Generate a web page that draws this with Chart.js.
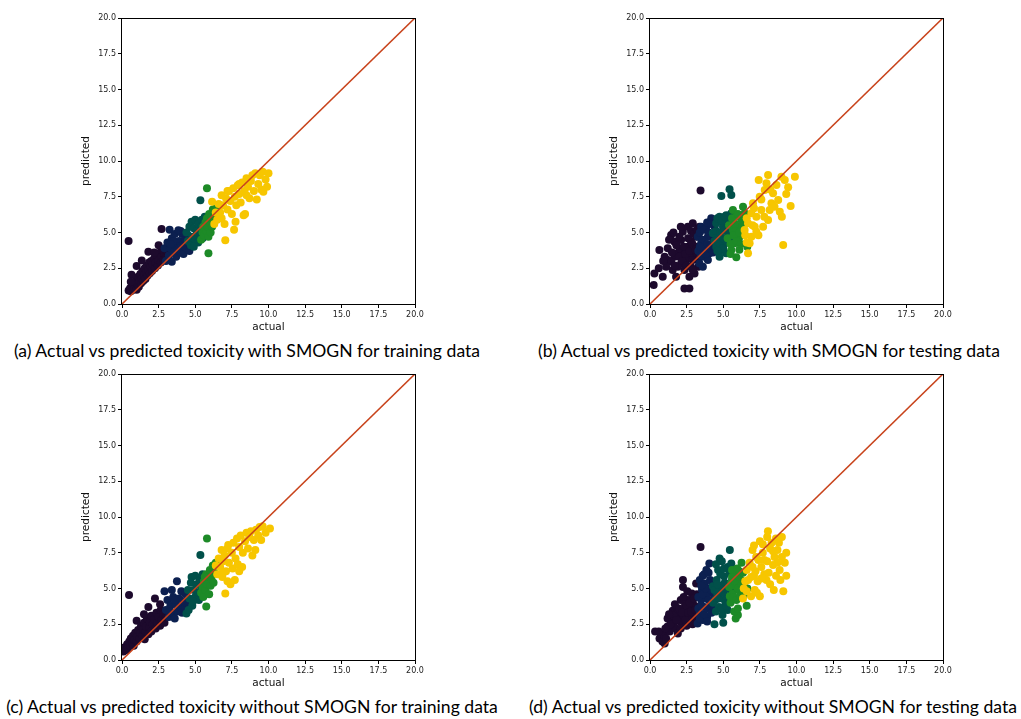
<!DOCTYPE html>
<html>
<head>
<meta charset="utf-8">
<script src="https://cdn.jsdelivr.net/npm/chart.js@4.4.1/dist/chart.umd.min.js"></script>
<style>
  html, body { margin: 0; padding: 0; background: #fff; }
  body { width: 1021px; height: 719px; position: relative; overflow: hidden; }
  canvas { position: absolute; }
  .caption {
    position: absolute;
    width: 540px;
    text-align: center;
    font-family: Lato, "Noto Sans", sans-serif;
    font-size: 17.6px;
    color: #000;
    white-space: nowrap;
  }
</style>
</head>
<body>
<canvas id="panelA" width="362" height="330"></canvas>
<canvas id="panelB" width="362" height="330"></canvas>
<canvas id="panelC" width="362" height="330"></canvas>
<canvas id="panelD" width="362" height="330"></canvas>

<script>
// --------------------------
// data
// --------------------------
const tickValues = [0, 2.5, 5, 7.5, 10, 12.5, 15, 17.5, 20];
const groupColors = ["#1d0a2d", "#0c2050", "#01504a", "#1d8a27", "#f7c600"];
const lineColor = "#c8431b";
const diagonal = [[0, 0], [20, 20]];
const xTitle = "actual";
const yTitle = "predicted";
const captions = [
  "(a) Actual vs predicted toxicity with SMOGN for training data",
  "(b) Actual vs predicted toxicity with SMOGN for testing data",
  "(c) Actual vs predicted toxicity without SMOGN for training data",
  "(d) Actual vs predicted toxicity without SMOGN for testing data"
];

// (a) training, with SMOGN
const trainSmognG1 = [[0.45,0.95],[0.55,1.1],[0.6,0.9],[0.7,1.2],[0.75,1.0],[0.8,1.35],[0.85,1.1],[0.9,1.5],[0.95,1.25],[1.0,1.0],[1.0,1.7],[1.05,1.4],[1.1,1.9],[1.15,1.2],[1.2,1.6],[1.25,2.1],[1.3,1.45],[1.35,1.8],[1.4,2.3],[1.45,1.6],[1.5,2.0],[1.55,2.5],[1.6,1.75],[1.65,2.2],[1.7,2.7],[1.75,2.0],[1.8,2.4],[1.85,2.9],[1.9,2.15],[1.95,2.6],[2.0,3.0],[2.05,2.3],[2.1,2.75],[2.2,3.2],[2.25,2.5],[2.3,2.9],[2.4,3.4],[2.45,2.7],[2.5,3.05],[2.6,3.6],[2.65,2.9],[2.7,3.3],[2.8,3.75],[2.85,3.1],[2.9,3.5],[3.0,3.3],[3.1,3.7],[1.0,2.65],[1.35,3.05],[1.8,3.65],[2.5,4.1],[2.7,5.25],[0.45,4.4],[0.65,2.05],[0.6,1.55],[2.2,3.6]];
const trainSmognG2 = [[2.9,3.9],[3.0,3.0],[3.1,4.3],[3.2,3.4],[3.25,5.2],[3.3,3.9],[3.4,2.95],[3.4,4.6],[3.5,3.6],[3.6,4.1],[3.6,4.9],[3.7,3.3],[3.8,3.8],[3.85,5.15],[3.9,4.4],[4.0,3.6],[4.1,4.9],[4.1,4.1],[4.2,3.5],[4.3,4.5],[4.4,3.9],[4.5,4.8],[4.6,4.2],[4.6,3.7],[3.5,4.4],[3.3,4.2],[4.0,5.1]];
const trainSmognG3 = [[4.4,5.0],[4.5,4.4],[4.6,5.4],[4.7,4.1],[4.75,5.75],[4.8,4.7],[4.9,5.3],[5.0,4.5],[5.0,5.9],[5.1,5.1],[5.2,4.3],[5.2,5.6],[5.3,4.9],[5.4,5.4],[5.45,5.9],[5.5,4.6],[5.6,5.2],[5.65,6.1],[4.9,4.0],[5.35,7.25]];
const trainSmognG4 = [[5.4,4.5],[5.5,5.0],[5.55,5.4],[5.6,4.8],[5.7,5.7],[5.75,5.1],[5.8,6.0],[5.85,5.4],[5.9,4.7],[5.95,6.3],[6.0,5.7],[6.05,5.0],[6.1,6.1],[6.15,5.4],[6.2,6.6],[6.25,5.8],[6.3,6.3],[5.8,8.1],[5.9,3.55],[6.4,6.7]];
const trainSmognG5 = [[6.15,7.15],[6.3,5.6],[6.4,6.4],[6.5,5.9],[6.6,7.0],[6.7,6.4],[6.8,7.6],[6.9,6.9],[7.0,5.6],[7.05,4.45],[7.1,7.4],[7.2,6.6],[7.3,7.9],[7.4,7.2],[7.5,6.3],[7.6,8.1],[7.65,5.2],[7.7,7.5],[7.75,5.75],[7.8,6.9],[7.9,8.3],[8.0,7.7],[8.1,7.1],[8.2,8.5],[8.3,6.2],[8.35,7.9],[8.4,6.3],[8.5,8.8],[8.6,8.2],[8.7,7.4],[8.8,8.6],[8.9,9.0],[9.0,7.9],[9.1,9.15],[9.2,7.3],[9.3,8.4],[9.4,9.0],[9.5,8.0],[9.6,9.25],[9.65,7.85],[9.8,8.7],[9.9,8.2],[10.0,9.15],[7.2,7.9],[6.8,6.0],[8.0,8.4],[8.5,7.6]];

// (b) testing, with SMOGN
const testSmognG1 = [[0.3,2.14],[0.25,1.33],[0.64,3.78],[0.87,1.91],[1.21,3.9],[1.44,4.83],[1.67,4.36],[1.21,3.08],[1.55,2.38],[1.9,3.55],[2.12,4.48],[2.24,5.06],[2.58,5.41],[2.92,5.64],[3.38,5.41],[3.45,7.93],[2.35,1.09],[2.69,1.09],[2.8,2.61],[3.04,3.55],[3.26,3.08],[2.69,3.31],[2.12,2.84],[1.78,1.91],[2.58,4.01],[2.35,2.38],[1.9,2.61],[2.47,3.08],[2.8,4.36],[3.15,4.71],[2.24,3.66],[1.67,3.31],[2.01,3.9],[1.44,2.96],[2.69,1.91],[2.92,3.08],[3.04,2.14],[3.26,4.01],[1.0,3.3],[1.3,4.5],[1.5,3.6],[1.7,2.7],[1.8,4.1],[2.0,3.3],[2.0,4.7],[2.2,3.0],[2.3,4.0],[2.4,3.5],[2.5,2.7],[2.6,4.6],[2.7,3.7],[2.8,5.1],[2.9,4.2],[3.0,4.9],[3.1,3.8],[3.2,5.2],[1.1,2.6],[0.9,3.0],[1.6,5.0],[2.1,5.4],[3.3,2.6],[2.9,2.4],[0.6,2.5]];
const testSmognG2 = [[3.26,4.71],[3.49,4.25],[3.72,3.78],[3.61,2.61],[3.38,2.84],[3.95,4.71],[4.18,6.0],[3.84,5.41],[4.06,3.55],[4.29,4.25],[4.41,5.41],[3.61,3.31],[3.95,3.08],[3.49,5.41],[3.3,3.7],[3.4,5.0],[3.5,3.4],[3.6,4.5],[3.7,5.2],[3.8,3.5],[3.9,4.2],[4.0,5.0],[4.1,3.9],[4.2,4.7],[4.3,3.6],[4.4,4.5],[3.4,4.0],[3.9,5.7],[4.2,5.6]];
const testSmognG3 = [[4.52,5.64],[4.75,6.11],[4.98,5.41],[4.64,4.71],[5.09,4.25],[4.87,3.78],[5.32,5.88],[5.55,6.34],[5.32,4.95],[5.2,3.55],[4.52,4.01],[4.87,7.55],[5.43,8.02],[5.55,7.62],[5.66,4.48],[4.75,3.31],[4.29,4.95],[4.4,4.4],[4.5,5.1],[4.6,6.0],[4.7,4.3],[4.8,5.0],[4.9,5.8],[5.0,4.6],[5.0,3.9],[5.1,5.2],[5.2,6.2],[5.3,4.3],[5.4,5.6],[5.5,5.0],[4.6,3.7],[5.1,6.1]];
const testSmognG4 = [[5.66,6.57],[5.89,6.11],[6.01,5.41],[6.24,5.88],[6.12,4.71],[5.78,4.25],[6.35,6.8],[5.89,3.27],[6.64,4.0],[5.66,5.18],[6.24,5.18],[6.46,6.34],[5.55,3.78],[6.01,4.48],[5.3,4.6],[5.4,5.5],[5.5,4.2],[5.6,6.0],[5.7,4.8],[5.8,5.6],[5.9,4.4],[6.0,6.3],[6.1,5.0],[6.2,4.2],[6.3,5.6],[5.5,3.5],[6.1,3.8]];
const testSmognG5 = [[6.69,3.55],[6.92,4.71],[7.15,5.41],[7.26,6.11],[7.03,7.04],[7.42,8.67],[8.06,9.02],[7.83,7.97],[7.6,6.57],[8.06,5.88],[8.29,7.04],[8.75,7.27],[8.63,8.32],[8.97,8.9],[9.43,8.16],[9.89,8.9],[9.6,6.85],[9.09,4.12],[6.69,5.64],[6.92,6.34],[7.49,7.5],[8.4,7.74],[8.86,6.45],[7.72,5.41],[7.26,5.06],[8.17,6.57],[9.2,8.67],[7.95,8.44],[6.46,5.18],[6.8,4.25],[6.5,4.8],[6.6,6.0],[7.0,5.5],[7.1,6.7],[7.4,4.8],[7.8,6.1],[8.2,8.0],[8.5,6.8],[9.0,6.1],[9.3,7.7],[7.6,7.3],[6.6,4.3]];

// (c) training, without SMOGN
const trainPlainG1 = [[0.1,0.6],[0.2,0.9],[0.3,0.7],[0.35,1.1],[0.4,0.85],[0.5,1.3],[0.55,1.0],[0.6,1.5],[0.7,1.2],[0.75,1.7],[0.8,1.0],[0.85,1.4],[0.9,1.9],[1.0,1.3],[1.0,2.75],[1.05,1.65],[1.1,2.1],[1.2,1.5],[1.25,1.9],[1.3,2.4],[1.4,1.7],[1.45,2.15],[1.5,2.6],[1.55,1.45],[1.6,2.0],[1.65,2.35],[1.7,2.9],[1.8,1.8],[1.8,3.7],[1.85,2.3],[1.9,2.65],[2.0,2.0],[2.0,3.1],[2.1,2.5],[2.2,2.85],[2.25,4.3],[2.3,2.2],[2.35,3.3],[2.4,2.6],[2.5,3.0],[2.6,2.4],[2.65,3.5],[2.7,2.8],[2.8,3.2],[2.9,2.6],[3.0,3.0],[3.1,3.4],[0.48,4.55],[1.5,3.2],[2.6,3.9]];
const trainPlainG2 = [[2.9,4.8],[3.0,3.5],[3.1,4.2],[3.2,3.0],[3.3,3.8],[3.4,4.9],[3.45,3.3],[3.5,4.4],[3.6,2.9],[3.7,3.9],[3.75,5.5],[3.8,3.4],[3.9,4.3],[4.0,3.7],[4.05,4.8],[4.1,3.3],[4.2,4.1],[4.3,3.6],[4.35,4.6],[4.4,4.0],[3.3,3.4],[3.6,4.2]];
const trainPlainG3 = [[4.4,3.25],[4.5,4.9],[4.6,4.3],[4.7,5.4],[4.75,5.8],[4.8,3.8],[4.9,4.9],[5.0,4.4],[5.0,5.9],[5.1,5.3],[5.2,4.7],[5.3,5.6],[5.35,7.35],[5.4,5.1],[5.5,6.0],[5.6,5.5],[4.55,3.5],[5.25,4.2],[4.85,4.1]];
const trainPlainG4 = [[5.4,4.7],[5.5,5.1],[5.55,4.4],[5.6,5.5],[5.7,4.9],[5.75,6.0],[5.8,5.3],[5.8,8.5],[5.75,3.75],[5.9,5.8],[5.95,4.6],[6.0,6.3],[6.05,5.2],[6.1,5.7],[6.2,6.6],[6.25,5.4],[6.3,6.1],[6.4,6.8],[5.65,5.8]];
const trainPlainG5 = [[6.4,6.6],[6.5,6.0],[6.6,7.1],[6.7,6.5],[6.8,7.7],[6.85,5.8],[6.9,6.9],[7.0,7.3],[7.05,4.65],[7.1,6.2],[7.2,7.8],[7.25,8.05],[7.3,6.8],[7.4,5.3],[7.5,7.5],[7.55,6.4],[7.6,8.2],[7.7,5.6],[7.75,7.1],[7.85,8.5],[7.9,6.7],[8.0,7.9],[8.1,8.7],[8.2,6.5],[8.25,7.5],[8.4,8.3],[8.5,8.9],[8.6,7.8],[8.7,8.6],[8.8,9.0],[8.9,7.3],[9.0,8.4],[9.1,7.7],[9.15,9.1],[9.3,8.7],[9.4,9.3],[9.5,8.4],[9.6,9.35],[9.8,8.9],[10.1,9.2],[7.2,5.5],[8.0,6.2],[6.9,6.1]];

// (d) testing, without SMOGN
const testPlainG1 = [[0.35,2.0],[0.65,1.5],[0.75,1.8],[0.85,1.3],[0.95,1.75],[1.0,1.15],[1.1,1.5],[1.2,2.35],[1.35,2.0],[1.5,2.9],[1.55,3.45],[1.65,2.6],[1.75,2.2],[1.85,3.5],[1.9,1.85],[2.0,3.0],[2.1,4.2],[2.15,2.6],[2.25,5.6],[2.25,5.1],[2.35,3.1],[2.45,3.55],[2.5,2.4],[2.6,4.2],[2.65,3.0],[2.75,3.7],[2.8,2.8],[2.85,4.65],[2.95,3.3],[3.05,3.8],[3.1,2.9],[3.2,4.6],[3.25,3.4],[3.15,5.35],[3.45,7.9],[2.4,3.9],[1.95,3.4],[1.2,2.9],[1.4,2.5],[1.6,3.1],[1.7,3.9],[1.8,2.8],[2.0,3.6],[2.1,2.2],[2.2,3.3],[2.3,4.4],[2.4,2.8],[2.5,3.8],[2.6,3.3],[2.7,4.0],[2.8,3.4],[2.9,2.5],[3.0,4.3],[3.1,3.5],[3.2,3.0],[2.55,4.8],[1.3,3.2],[0.6,2.0],[1.05,2.2]];
const testPlainG2 = [[3.25,2.55],[3.3,3.6],[3.4,5.6],[3.4,3.25],[3.5,4.2],[3.55,4.9],[3.6,2.8],[3.7,3.7],[3.75,5.35],[3.8,4.4],[3.85,6.3],[3.9,3.0],[3.95,4.65],[4.05,6.75],[4.1,5.0],[4.15,3.7],[4.3,5.35],[4.35,4.1],[4.4,4.45],[3.6,5.9],[3.3,4.4],[3.4,2.9],[3.5,3.8],[3.6,4.6],[3.7,3.2],[3.8,5.0],[3.9,3.6],[4.0,4.2],[4.1,5.6],[4.2,3.3],[4.25,4.8],[4.4,3.7],[3.5,5.2],[3.7,6.0],[3.9,2.7],[4.0,6.1]];
const testPlainG3 = [[4.3,5.15],[4.4,2.5],[4.45,4.2],[4.55,5.6],[4.65,6.3],[4.7,3.7],[4.75,7.1],[4.8,4.8],[4.9,5.2],[4.95,3.15],[5.0,2.6],[5.05,5.85],[5.1,4.2],[5.2,4.45],[5.3,6.5],[5.3,3.5],[5.35,5.3],[5.45,7.7],[5.5,4.9],[5.55,6.75],[4.6,4.6],[5.15,3.9],[4.3,4.0],[4.4,4.9],[4.5,3.4],[4.6,5.3],[4.7,4.3],[4.8,6.0],[4.9,3.6],[5.0,4.7],[5.05,6.4],[5.1,5.4],[5.2,3.8],[5.25,5.0],[5.4,4.3],[5.45,6.1],[5.6,5.6],[4.5,6.7],[4.9,6.9]];
const testPlainG4 = [[5.45,4.45],[5.55,5.4],[5.65,4.65],[5.75,6.0],[5.8,5.2],[5.85,2.9],[5.95,5.6],[6.0,3.15],[6.05,4.9],[6.1,6.2],[6.2,5.6],[6.25,6.8],[6.3,4.4],[6.4,5.2],[6.5,4.9],[6.6,3.8],[6.65,5.0],[5.6,6.3],[5.4,5.1],[5.5,4.0],[5.6,5.8],[5.7,4.4],[5.8,5.5],[5.9,4.2],[5.95,6.4],[6.0,5.0],[6.1,5.8],[6.15,4.5],[6.25,5.3],[6.35,6.1],[6.45,4.6],[5.75,3.4],[6.0,3.6]];
const testPlainG5 = [[6.35,4.3],[6.5,5.5],[6.6,6.3],[6.7,5.6],[6.8,6.8],[6.9,4.45],[7.0,6.5],[7.1,5.9],[7.15,4.9],[7.25,7.2],[7.35,5.5],[7.4,7.0],[7.5,8.3],[7.5,4.45],[7.6,6.5],[7.7,7.5],[7.8,6.0],[7.95,5.6],[8.0,8.6],[8.05,9.0],[8.1,6.1],[8.2,7.8],[8.3,8.2],[8.4,6.65],[8.45,4.9],[8.5,7.2],[8.6,8.5],[8.7,7.7],[8.85,6.3],[8.9,5.6],[9.0,8.6],[9.1,4.8],[9.2,6.8],[9.3,7.5],[9.3,5.9],[7.0,7.7],[7.8,7.0],[8.6,5.9],[6.4,5.0],[6.6,4.8],[6.9,5.8],[7.2,6.2],[7.3,4.7],[7.6,5.7],[7.7,8.1],[8.0,6.9],[8.2,5.3],[8.4,7.6],[8.7,6.8],[9.0,7.2],[7.1,8.0],[8.8,8.2]];

// --------------------------
// layout (page px of the plot box)
// --------------------------
const panels = [
  { id: "panelA", left: 122, top: 18,  groups: [trainSmognG1, trainSmognG2, trainSmognG3, trainSmognG4, trainSmognG5] },
  { id: "panelB", left: 650, top: 18,  groups: [testSmognG1, testSmognG2, testSmognG3, testSmognG4, testSmognG5] },
  { id: "panelC", left: 122, top: 374, groups: [trainPlainG1, trainPlainG2, trainPlainG3, trainPlainG4, trainPlainG5] },
  { id: "panelD", left: 650, top: 374, groups: [testPlainG1, testPlainG2, testPlainG3, testPlainG4, testPlainG5] }
];
const captionPos = [[247, 352], [769, 352], [252, 708], [773, 708]];

const PAD = { left: 8, top: 10, right: 19, bottom: 4 };
const Y_AXIS_W = 42;
const X_AXIS_H = 30;

// рамка вокруг области графика (как у matplotlib)
const frameBox = {
  id: "frameBox",
  afterDraw(chart) {
    const { ctx, chartArea: a } = chart;
    ctx.save();
    ctx.strokeStyle = "#000";
    ctx.lineWidth = 1;
    ctx.strokeRect(Math.round(a.left) - 0.5, Math.round(a.top) + 0.5,
      Math.round(a.right - a.left) + 1, Math.round(a.bottom - a.top));
    ctx.restore();
  }
};

function toXY(pairs) {
  return pairs.map(([x, y]) => ({ x, y }));
}

function axisOptions(title, isY) {
  return {
    type: "linear",
    min: 0,
    max: 20,
    afterBuildTicks: s => { s.ticks = tickValues.map(v => ({ value: v })); },
    afterFit: s => { if (isY) s.width = Y_AXIS_W; else s.height = X_AXIS_H; },
    ticks: {
      font: { family: "DejaVu Sans", size: 8 },
      color: "#222",
      padding: 2,
      maxRotation: 0,
      autoSkip: false,
      callback: v => Number(v).toFixed(1)
    },
    grid: { drawOnChartArea: false, drawTicks: true, tickLength: 4, color: "#000", lineWidth: 1 },
    border: { display: false },
    title: {
      display: true,
      text: title,
      font: { family: "DejaVu Sans", size: 10.5 },
      color: "#111",
      padding: 0
    }
  };
}

function createPanel(p) {
  const canvas = document.getElementById(p.id);
  canvas.style.left = (p.left - PAD.left - Y_AXIS_W) + "px";
  canvas.style.top = (p.top - PAD.top) + "px";

  const datasets = [
    {
      data: toXY(diagonal),
      showLine: true,
      borderColor: lineColor,
      borderWidth: 1.6,
      pointRadius: 0,
      fill: false
    }
  ];
  // жёлтые ниже по списку — рисуются раньше
  for (let i = p.groups.length - 1; i >= 0; i--) {
    datasets.push({
      data: toXY(p.groups[i]),
      backgroundColor: groupColors[i],
      borderColor: groupColors[i],
      borderWidth: 0,
      pointRadius: 4,
      pointHoverRadius: 4
    });
  }

  new Chart(canvas.getContext("2d"), {
    type: "scatter",
    data: { datasets },
    options: {
      responsive: false,
      animation: false,
      layout: { padding: PAD },
      plugins: { legend: { display: false }, tooltip: { enabled: false } },
      scales: {
        x: axisOptions(xTitle, false),
        y: axisOptions(yTitle, true)
      }
    },
    plugins: [frameBox]
  });
}

panels.forEach(createPanel);

captions.forEach((text, i) => {
  const div = document.createElement("div");
  div.className = "caption";
  div.textContent = text;
  div.style.left = (captionPos[i][0] - 270) + "px";
  div.style.top = (captionPos[i][1] - 12) + "px";
  document.body.appendChild(div);
});
</script>
</body>
</html>
